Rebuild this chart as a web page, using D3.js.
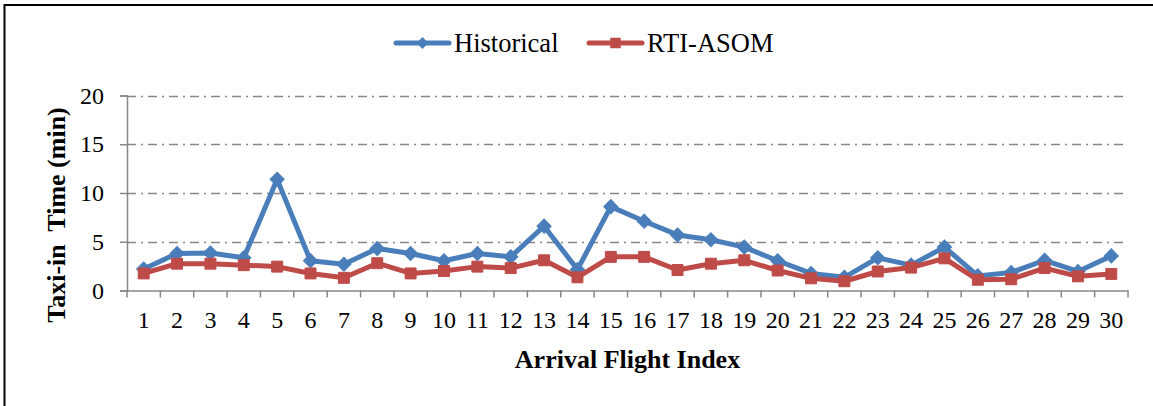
<!DOCTYPE html>
<html>
<head>
<meta charset="utf-8">
<script src="https://cdn.jsdelivr.net/npm/d3@7"></script>
<style>
  html, body { margin: 0; padding: 0; background: #fff; }
  svg { display: block; }
  text { font-family: "Liberation Serif", "Times New Roman", serif; fill: #000; }
</style>
</head>
<body>
<svg id="chart" width="1153" height="406"></svg>
<script>
// Flight indices and taxi-in times (minutes)
const flights = d3.range(1, 31).map(String);
const historical = [2.2, 3.8, 3.85, 3.35, 11.4, 3.05, 2.7, 4.3, 3.8, 3.05,
                    3.8, 3.45, 6.6, 2.15, 8.6, 7.1, 5.7, 5.2, 4.45, 3.05,
                    1.75, 1.35, 3.35, 2.6, 4.45, 1.5, 1.85, 3.1, 1.95, 3.55];
const rtiAsom = [1.75, 2.75, 2.75, 2.6, 2.45, 1.75, 1.3, 2.8, 1.75, 2.0,
                 2.45, 2.3, 3.1, 1.35, 3.45, 3.45, 2.1, 2.75, 3.1, 2.05,
                 1.25, 0.95, 1.95, 2.35, 3.3, 1.1, 1.15, 2.3, 1.45, 1.7];
const yTicks = [0, 5, 10, 15, 20];
const seriesNames = ["Historical", "RTI-ASOM"];

const BLUE = "#4A7EBB", RED = "#BE4B48", GRID = "#878787";

const svg = d3.select("#chart");

// outer frame
svg.append("rect")
  .attr("x", 4.5).attr("y", 5).attr("width", 1160).attr("height", 420)
  .attr("fill", "none").attr("stroke", "#000").attr("stroke-width", 2);

const plot = { left: 127, right: 1128, top: 95.5, bottom: 290.5 };

const x = d3.scaleBand().domain(flights).range([plot.left, plot.right]).paddingInner(0).paddingOuter(0);
const y = d3.scaleLinear().domain([0, 20]).range([plot.bottom, plot.top]);

// horizontal dash-dot gridlines
svg.append("g")
  .selectAll("line")
  .data(yTicks.filter(d => d > 0))
  .join("line")
  .attr("x1", plot.left).attr("x2", plot.right)
  .attr("y1", d => Math.round(y(d)) + 0.5).attr("y2", d => Math.round(y(d)) + 0.5)
  .attr("stroke", GRID).attr("stroke-width", 1.5)
  .attr("stroke-dasharray", "9,5,2,5");

// y axis
const yAxis = svg.append("g")
  .attr("transform", `translate(${plot.left},0)`)
  .call(d3.axisLeft(y).tickValues(yTicks).tickSize(7).tickPadding(16));
yAxis.select(".domain").attr("stroke", GRID).attr("stroke-width", 1.5);
yAxis.selectAll(".tick line").attr("stroke", GRID).attr("stroke-width", 1.5);
yAxis.selectAll(".tick text")
  .style("font-family", '"Liberation Serif", serif')
  .style("font-size", "24px").attr("fill", "#000");

// x axis with ticks between categories
const xAxis = svg.append("g")
  .attr("transform", `translate(0,${plot.bottom})`)
  .call(d3.axisBottom(x).tickSize(0).tickPadding(20));
xAxis.select(".domain").attr("stroke", GRID).attr("stroke-width", 1.5);
xAxis.selectAll(".tick text")
  .style("font-family", '"Liberation Serif", serif')
  .style("font-size", "24px").attr("fill", "#000");
xAxis.append("g")
  .selectAll("line")
  .data(flights.map(f => x(f)).concat([plot.right]))
  .join("line")
  .attr("x1", d => d).attr("x2", d => d)
  .attr("y1", 0).attr("y2", 7)
  .attr("stroke", GRID).attr("stroke-width", 1.5);

// series lines and markers
const cx = d => x(d) + x.bandwidth() / 2;
const line = d3.line().x(d => cx(d.f)).y(d => y(d.v));
const histData = flights.map((f, i) => ({ f, v: historical[i] }));
const rtiData = flights.map((f, i) => ({ f, v: rtiAsom[i] }));

function drawSeries(data, color, shape) {
  svg.append("path").datum(data)
    .attr("d", line).attr("fill", "none")
    .attr("stroke", color).attr("stroke-width", 5)
    .attr("stroke-linejoin", "round").attr("stroke-linecap", "round");
  svg.append("g").selectAll("path").data(data).join("path")
    .attr("transform", d => shape === "diamond"
      ? `translate(${cx(d.f)},${y(d.v)}) rotate(45)`
      : `translate(${cx(d.f)},${y(d.v)})`)
    .attr("d", d3.symbol().type(d3.symbolSquare).size(shape === "diamond" ? 100 : 120))
    .attr("fill", color).attr("stroke", color).attr("stroke-width", 1);
}
drawSeries(histData, BLUE, "diamond");
drawSeries(rtiData, RED, "square");

// legend
const legend = svg.append("g");
const legendItems = [
  { name: seriesNames[0], color: BLUE, shape: "diamond", x0: 396 },
  { name: seriesNames[1], color: RED, shape: "square", x0: 589 }
];
legendItems.forEach(it => {
  legend.append("line")
    .attr("x1", it.x0).attr("x2", it.x0 + 53).attr("y1", 43).attr("y2", 43)
    .attr("stroke", it.color).attr("stroke-width", 5).attr("stroke-linecap", "round");
  legend.append("path")
    .attr("transform", it.shape === "diamond"
      ? `translate(${it.x0 + 26.5},43) rotate(45)` : `translate(${it.x0 + 26.5},43)`)
    .attr("d", d3.symbol().type(d3.symbolSquare).size(it.shape === "diamond" ? 70 : 110))
    .attr("fill", it.color);
  legend.append("text")
    .attr("x", it.x0 + 58).attr("y", 52)
    .style("font-size", "26.5px")
    .text(it.name);
});

// axis titles
svg.append("text")
  .attr("x", (plot.left + plot.right) / 2).attr("y", 368)
  .attr("text-anchor", "middle")
  .style("font-size", "26px").style("font-weight", "bold")
  .text("Arrival Flight Index");

svg.append("text")
  .attr("transform", `translate(65,${(plot.top + plot.bottom) / 2 + 22}) rotate(-90)`)
  .attr("text-anchor", "middle")
  .style("font-size", "26px").style("font-weight", "bold")
  .style("white-space", "pre")
  .text("Taxi-in  Time (min)");
</script>
</body>
</html>
